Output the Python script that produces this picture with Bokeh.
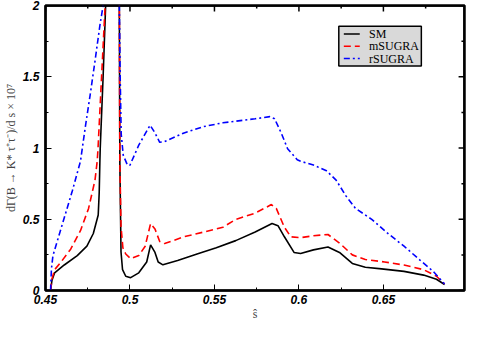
from bokeh.plotting import figure
from bokeh.models import Range1d, FixedTicker
from bokeh.core.properties import value
from bokeh.embed import file_html
from bokeh.resources import INLINE

# ---- data ----
x_min, x_max = 0.45, 0.698
y_min, y_max = 0.0, 2.0
x_ticks = [0.45, 0.5, 0.55, 0.6, 0.65]
x_tick_labels = ["0.45", "0.5", "0.55", "0.6", "0.65"]
x_minor = [0.475, 0.525, 0.575, 0.625, 0.675]
y_ticks = [0, 0.5, 1, 1.5, 2]
y_tick_labels = ["0", "0.5", "1", "1.5", "2"]
y_minor = [0.25, 0.75, 1.25, 1.75]

series_names = ["SM", "mSUGRA", "rSUGRA"]

sm_x = [0.4530, 0.4538, 0.4554, 0.4611, 0.4688, 0.4745, 0.4783, 0.4812, 0.4818, 0.4822,
        0.4824, 0.4841, 0.4856, 0.4897, 0.4937, 0.4940, 0.4947, 0.4956, 0.4975, 0.5004,
        0.5052, 0.5099, 0.5122, 0.5148, 0.5167, 0.5195, 0.5282, 0.5397, 0.5511, 0.5626,
        0.5741, 0.5841, 0.5876, 0.5914, 0.5971, 0.6010, 0.6086, 0.6172, 0.6240, 0.6316,
        0.6393, 0.6489, 0.6622, 0.6738, 0.6814, 0.6862]
sm_y = [0.0, 0.07, 0.124, 0.179, 0.245, 0.311, 0.40, 0.53, 0.69, 0.91,
        1.0, 1.5, 2.0, 2.6, 2.0, 0.9, 0.27, 0.146, 0.10, 0.09,
        0.124, 0.20, 0.32, 0.267, 0.20, 0.18, 0.21, 0.256, 0.30, 0.35,
        0.41, 0.47, 0.455, 0.377, 0.267, 0.26, 0.285, 0.305, 0.267, 0.19,
        0.163, 0.152, 0.134, 0.108, 0.079, 0.042]

ms_x = [0.4530, 0.4538, 0.4554, 0.4592, 0.4649, 0.4707, 0.4755, 0.4793, 0.4806, 0.4811,
        0.4832, 0.4853, 0.4897, 0.4937, 0.4940, 0.4947, 0.4958, 0.4975, 0.5004, 0.5052,
        0.5090, 0.5122, 0.5148, 0.5176, 0.5205, 0.5320, 0.5435, 0.5550, 0.5626, 0.5741,
        0.5837, 0.5866, 0.5914, 0.5952, 0.6010, 0.6086, 0.6172, 0.6240, 0.6316, 0.6393,
        0.6507, 0.6622, 0.6738, 0.6814, 0.6862]
ms_y = [0.0, 0.08, 0.146, 0.20, 0.29, 0.42, 0.576, 0.775, 0.907, 1.0,
        1.5, 2.0, 2.6, 2.0, 0.9, 0.45, 0.30, 0.256, 0.223, 0.245,
        0.311, 0.47, 0.432, 0.344, 0.329, 0.377, 0.41, 0.444, 0.499, 0.543,
        0.603, 0.576, 0.444, 0.377, 0.371, 0.384, 0.393, 0.333, 0.25, 0.218,
        0.20, 0.179, 0.146, 0.10, 0.046]

rs_x = [0.4530, 0.4535, 0.4544, 0.4611, 0.4659, 0.4707, 0.4736, 0.4764, 0.4793, 0.4822,
        0.4841, 0.4897, 0.4937, 0.4942, 0.4948, 0.4960, 0.4985, 0.5000, 0.5052, 0.5119,
        0.5148, 0.5176, 0.5205, 0.5320, 0.5435, 0.5550, 0.5626, 0.5741, 0.5828, 0.5856,
        0.5895, 0.5933, 0.5990, 0.6010, 0.6086, 0.6163, 0.6220, 0.6278, 0.6335, 0.6431,
        0.6527, 0.6622, 0.6718, 0.6795, 0.6862]
rs_y = [0.0, 0.15, 0.245, 0.51, 0.70, 0.907, 1.15, 1.37, 1.61, 1.86,
        2.0, 2.6, 2.0, 1.5, 1.1, 0.95, 0.88, 0.88, 1.02, 1.16,
        1.106, 1.04, 1.045, 1.106, 1.15, 1.177, 1.188, 1.205, 1.22, 1.205,
        1.106, 0.995, 0.918, 0.907, 0.88, 0.84, 0.775, 0.664, 0.576, 0.499,
        0.40, 0.311, 0.212, 0.134, 0.046]

colors = ["black", "#ff0000", "#0000ff"]
dashes = ["solid", "7 4", "6 3 2 3"]

# ---- figure ----
p = figure(width=470, height=323, output_backend="svg", toolbar_location=None,
           x_range=Range1d(x_min, x_max), y_range=Range1d(y_min, y_max),
           min_border_left=36, min_border_right=6, min_border_top=5, min_border_bottom=20)
p.grid.visible = False
p.outline_line_color = "#000000"
p.outline_line_width = 2.5

xt = FixedTicker(ticks=x_ticks, minor_ticks=x_minor)
yt = FixedTicker(ticks=y_ticks, minor_ticks=y_minor)

def style_axis(ax):
    ax.axis_line_color = "black"
    ax.axis_line_width = 2
    ax.major_tick_in = 6
    ax.major_tick_out = 0
    ax.minor_tick_in = 3
    ax.minor_tick_out = 0
    ax.major_tick_line_color = "black"
    ax.minor_tick_line_color = "black"
    ax.major_label_text_font = "Liberation Sans"
    ax.major_label_text_font_style = "bold italic"
    ax.major_label_text_font_size = "12px"
    ax.major_label_text_color = "black"
    ax.axis_label_text_font = "Liberation Serif"
    ax.axis_label_text_font_style = "normal"
    ax.axis_label_text_font_size = "12px"

xa = p.xaxis[0]
xa.ticker = xt
xa.major_label_overrides = {t: l for t, l in zip(x_ticks, x_tick_labels)}
style_axis(xa)
xa.major_label_standoff = 4
xa.axis_label = "ŝ"
xa.axis_label_standoff = 0

ya = p.yaxis[0]
ya.ticker = yt
ya.major_label_overrides = {t: l for t, l in zip(y_ticks, y_tick_labels)}
style_axis(ya)
ya.major_label_standoff = 6
ya.axis_label = "dΓ(B → K* τ⁺τ⁻)/d s × 10⁷"
ya.axis_label_standoff = 2

for xs, ys, c, d in zip((sm_x, ms_x, rs_x), (sm_y, ms_y, rs_y), colors, dashes):
    p.line(xs, ys, line_color=c, line_width=1.6, line_dash=d)

# ---- legend, drawn as a box in axis fractions ----
xr, yr = x_max - x_min, y_max - y_min
lg_left, lg_right = x_min + 0.700 * xr, x_min + 0.897 * xr
lg_top, lg_bottom = y_min + 0.927 * yr, y_min + 0.788 * yr
row_y = [y_min + f * yr for f in (0.900, 0.857, 0.814)]
g0, g1, tx = x_min + 0.712 * xr, x_min + 0.750 * xr, x_min + 0.772 * xr
p.quad(left=[lg_left], right=[lg_right], bottom=[lg_bottom], top=[lg_top],
       fill_color="#d9d9d9", line_color="black", line_width=1.5)
for ry, c, d in zip(row_y, colors, dashes):
    p.segment(x0=[g0], y0=[ry], x1=[g1], y1=[ry], line_color=c, line_width=1.6, line_dash=d)
p.text(x=[tx] * 3, y=row_y, text=series_names, text_font=value("Liberation Serif"),
       text_font_size="12px", text_baseline="middle", text_align="left", text_color="black")

# inward ticks on the top and right edges (~6px major, ~3px minor), drawn last
ty_major, ty_minor = 0.042, 0.021
tx_major, tx_minor = 0.0035, 0.0018
tick_style = dict(line_color="#000000", line_width=1.5, line_dash="solid")
for xs, ln in ((x_ticks, ty_major), (x_minor, ty_minor)):
    p.segment(x0=xs, y0=[y_max] * len(xs), x1=xs, y1=[y_max - ln] * len(xs), **tick_style)
for ys, ln in ((y_ticks, tx_major), (y_minor, tx_minor)):
    p.segment(x0=[x_max] * len(ys), y0=ys, x1=[x_max - ln] * len(ys), y1=ys, **tick_style)

# top and right frame edges
p.segment(x0=[x_min, x_max], y0=[y_max, y_min], x1=[x_max, x_max], y1=[y_max, y_max],
          line_color="#000000", line_width=2.5, line_dash="solid")

open("out.html", "w").write(file_html(p, INLINE))
